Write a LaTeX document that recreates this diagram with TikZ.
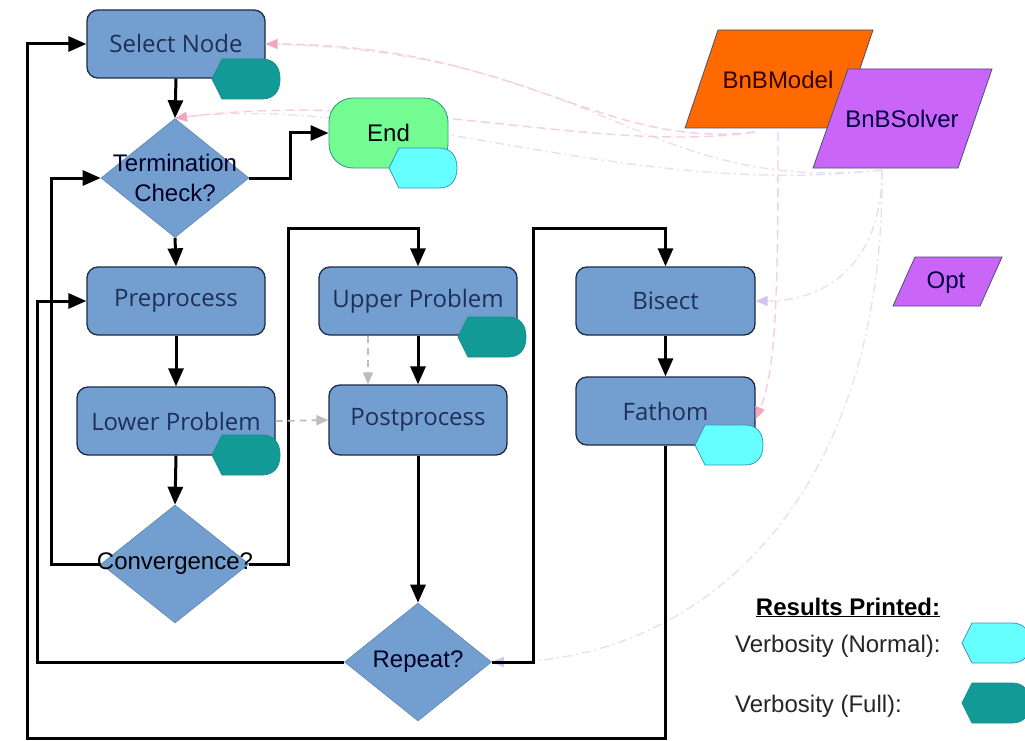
\documentclass[tikz,border=0pt]{standalone}
\usepackage{fontspec}
\setmainfont{Liberation Sans}
\newfontfamily\boxfont{Open Sans}
\usetikzlibrary{arrows.meta,shapes.geometric}
\definecolor{boxblue}{HTML}{729FCF}
\definecolor{boxedge}{HTML}{1E2B47}
\definecolor{boxtext}{HTML}{1F2F58}
\definecolor{teal1}{HTML}{129A96}
\definecolor{tealedge}{HTML}{1D8C8C}
\definecolor{cyan1}{HTML}{66FFFF}
\definecolor{cyanedge}{HTML}{3E93B8}
\definecolor{green1}{HTML}{72FC92}
\definecolor{greenedge}{HTML}{3C9A86}
\definecolor{orange1}{HTML}{FF6A00}
\definecolor{violet1}{HTML}{C965F7}
\definecolor{paraedge}{HTML}{4B4F78}
\definecolor{pinkc}{HTML}{F8CDDC}
\definecolor{pinkhead}{HTML}{F2A6C4}
\definecolor{lavc}{HTML}{E8DFF6}
\definecolor{lavhead}{HTML}{D6C2F2}
\definecolor{grayc}{HTML}{BDBDBD}
\newcommand\dispshape[3]{%
  \path[#1] (#2,#3+20) -- ++(10,-20) -- ++(40,0)
    .. controls +(12,0) and +(0,-12) .. ++(18,20)
    .. controls +(0,12) and +(12,0) .. ++(-18,20) -- ++(-40,0) -- cycle;}
\tikzset{
  proc/.style={draw=boxedge, line width=1.3pt, fill=boxblue, rounded corners=11pt,
    minimum width=178pt, minimum height=68pt, inner sep=0pt,
    font=\boxfont\fontsize{24}{28}\selectfont, text=boxtext},
  dia/.style={shape=diamond, draw=boxblue!85!black, line width=0.6pt, fill=boxblue,
    minimum width=148pt, minimum height=119pt, inner sep=0pt},
  dtext/.style={font=\fontsize{24}{30}\selectfont, text=black!85!blue, align=center, inner sep=0pt},
  flow/.style={line width=3pt, draw=black, line join=miter, -{Triangle[length=18pt,width=15pt]}},
  gdash/.style={line width=1.8pt, draw=grayc, dash pattern=on 7pt off 5pt, -{Triangle[length=12pt,width=10pt]}},
  pinkline/.style={line width=1.4pt, draw=pinkc, dash pattern=on 9pt off 5pt, -{Triangle[length=12pt,width=10pt,fill=pinkhead,color=pinkhead]}},
  lavline/.style={line width=1.4pt, draw=lavc, dash pattern=on 9pt off 4pt on 2pt off 4pt},
  lavarrow/.style={lavline, -{Triangle[length=12pt,width=10pt,fill=lavhead,color=lavhead]}},
  tealfill/.style={fill=teal1, draw=tealedge, line width=0.8pt},
  cyanfill/.style={fill=cyan1, draw=cyanedge, line width=0.8pt},
  lbl/.style={font=\fontsize{24}{28}\selectfont, inner sep=0pt},
}
\begin{document}
\begin{tikzpicture}[x=1pt,y=-1pt]
\useasboundingbox[fill=white] (0,0) rectangle (1025,741);

\coordinate (mfoot) at (755,132);
\coordinate (mfoot2) at (778,132);
\coordinate (sfoot) at (882,170);

% process boxes
\node[proc] (sel) at (176,44) {Select Node};
\node[proc] (pre) at (176,301) {Preprocess};
\node[proc, minimum width=198pt] (low) at (176,421) {Lower Problem};
\node[proc, minimum width=198pt] (up) at (418,301) {Upper Problem};
\node[proc, minimum height=70pt] (post) at (418,420) {Postprocess};
\node[proc, minimum width=179pt] (bis) at (665.5,301) {Bisect};
\node[proc, minimum width=179pt] (fat) at (665.5,411) {Fathom};

% diamonds (shapes only; text later)
\node[dia] (term) at (175,178) {};
\node[dia, minimum height=118pt] (conv) at (175,564) {};
\node[dia, minimum width=147pt, minimum height=118pt] (rep) at (418,662) {};

% faint model / solver links (behind End and the parallelograms)
\draw[lavline] (sfoot) .. controls (640,195) and (600,50) .. (sel.east);
\draw[lavline] (sfoot) .. controls (620,200) and (380,90) .. (term.north);
\draw[pinkline] (mfoot) .. controls (600,150) and (520,45) .. (sel.east);
\draw[pinkline] (mfoot) .. controls (600,155) and (400,90) .. (term.north);
\draw[lavarrow] (sfoot) .. controls (882,260) and (830,301) .. (bis.east);
\draw[pinkline] (mfoot2) .. controls (778,300) and (776,370) .. ([yshift=-8pt]fat.east);
\draw[lavarrow] (sfoot) .. controls (885,500) and (700,662) .. (rep.east);

% parallelograms
\path[fill=orange1, draw=paraedge, line width=0.8pt] (718,30) -- (873,30) -- (840,128) -- (685,128) -- cycle;
\node[lbl, text=black!80!red] (model) at (778,80) {BnBModel};
\path[fill=violet1, draw=paraedge, line width=0.8pt] (848,69) -- (992,69) -- (958,168) -- (813,168) -- cycle;
\node[lbl, text=black!75!blue] (solver) at (902,119) {BnBSolver};
\path[fill=violet1, draw=paraedge, line width=0.8pt] (915,257) -- (1002,257) -- (980,306) -- (893,306) -- cycle;
\node[lbl, text=black!75!blue] (opt) at (946,283) {Opt};

% End
\node[draw=greenedge, line width=0.9pt, fill=green1, rounded corners=24pt,
  minimum width=119pt, minimum height=70pt, lbl] (end) at (388.5,133) {End};

% diamond texts
\node[dtext] (termt) at (term) {Termination\\Check?};
\node[dtext, text=black] (convt) at (conv) {Convergence?};
\node[dtext] (rept) at (rep) {Repeat?};

% verbosity markers
\dispshape{tealfill}{212}{59}
\dispshape{tealfill}{212}{435}
\dispshape{tealfill}{458}{317}
\dispshape{cyanfill}{389}{148}
\dispshape{cyanfill}{695}{425}

% black flow connectors
\draw[flow] (sel.south) -- (term.north);
\draw[flow] (term.east) -- ++(41,0) |- (end.west);
\draw[flow] (term.south) -- (pre.north);
\draw[flow] (pre.south) -- (low.north);
\draw[flow] (low.south) -- (conv.north);
\draw[flow] (conv.west) -- ++(-49,0) |- (term.west);
\draw[flow] (conv.east) -- ++(39,0) -- ++(0,-336) -| (up.north);
\draw[flow] (up.south) -- (post.north);
\draw[flow] (post.south) -- (rep.north);
\draw[flow] (rep.west) -- (37,662) |- (pre.west);
\draw[flow] (rep.east) -- (533,662) -- (533,228) -| (bis.north);
\draw[flow] (bis.south) -- (fat.north);
\draw[flow] (fat.south) -- (665.5,738) -- (27,738) |- (sel.west);

% gray dashed
\draw[gdash] ([xshift=-50pt]up.south) -- ([xshift=-50pt]post.north);
\draw[gdash] (low.east) -- (post.west);

% legend
\node[lbl, anchor=base, font=\bfseries\fontsize{24}{28}\selectfont] (legt) at (848,615) {\underline{Results Printed:}};
\node[lbl, anchor=base west, text=black!85] (legn) at (735,652) {Verbosity (Normal):};
\node[lbl, anchor=base west, text=black!85] (legf) at (735,712) {Verbosity (Full):};
\dispshape{cyanfill}{962}{623}
\dispshape{tealfill}{962}{683}
\end{tikzpicture}
\end{document}
